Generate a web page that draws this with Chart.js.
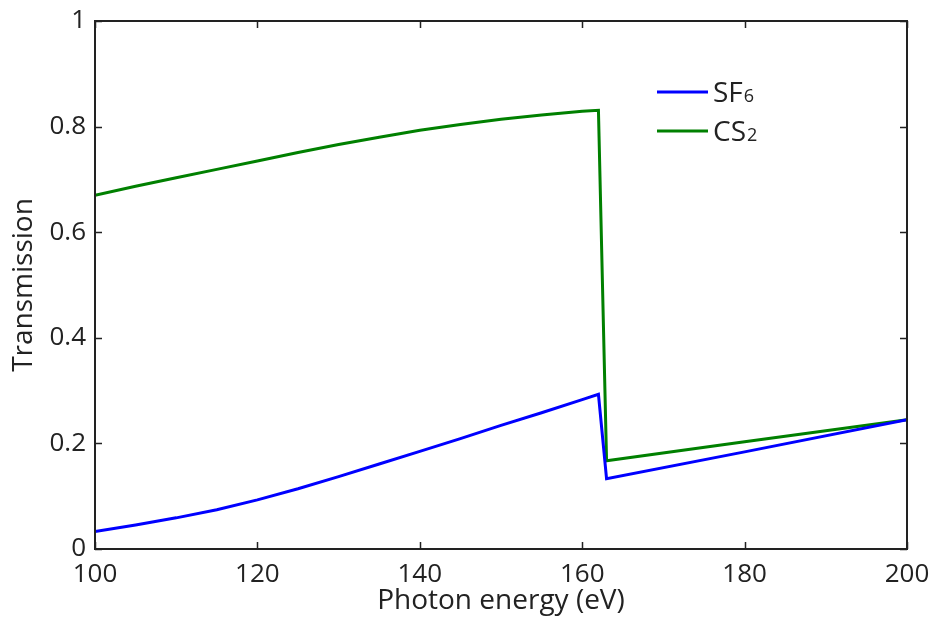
<!DOCTYPE html>
<html>
<head>
<meta charset="utf-8">
<script src="https://cdn.jsdelivr.net/npm/chart.js@4/dist/chart.umd.min.js"></script>
<style>
  html, body { margin: 0; padding: 0; background: #fff; }
  #wrap { width: 932px; height: 618px; }
</style>
</head>
<body>
<div id="wrap"><canvas id="c" width="932" height="618"></canvas></div>
<script>
// Photon energy (eV)
const energySF6 = [100, 105, 110, 115, 120, 125, 130, 135, 140, 145, 150, 155, 160, 162, 163, 180, 200];
const transSF6  = [0.033, 0.0455, 0.059, 0.0745, 0.093, 0.114, 0.137, 0.161, 0.185, 0.209, 0.234, 0.258, 0.283, 0.293, 0.133, 0.184, 0.245];
const energyCS2 = [100, 105, 110, 115, 120, 125, 130, 135, 140, 145, 150, 155, 160, 162, 163, 180, 200];
const transCS2  = [0.670, 0.687, 0.703, 0.719, 0.735, 0.751, 0.766, 0.780, 0.793, 0.804, 0.814, 0.822, 0.829, 0.831, 0.167, 0.203, 0.245];
const seriesNames = [["SF", "6"], ["CS", "2"]];
const seriesColors = ["#0000ff", "#008000"];
const xTicks = [100, 120, 140, 160, 180, 200];
const yTicks = [0, 0.2, 0.4, 0.6, 0.8, 1];
const xTitle = "Photon energy (eV)";
const yTitle = "Transmission";

const FONT = "'Open Sans', 'Noto Sans', sans-serif";
const INK = "#222222";

function pts(xs, ys) { return xs.map((x, i) => ({ x: x, y: ys[i] })); }

const framePlugin = {
  id: "frame",
  afterDatasetsDraw(chart) {
    const { ctx, chartArea: a, scales } = chart;
    ctx.save();
    ctx.strokeStyle = INK;
    ctx.lineWidth = 1.5;
    const tl = 7;
    ctx.beginPath();
    xTicks.forEach(v => {
      const px = Math.round(scales.x.getPixelForValue(v)) + 0.5;
      ctx.moveTo(px, a.bottom); ctx.lineTo(px, a.bottom - tl);
      ctx.moveTo(px, a.top); ctx.lineTo(px, a.top + tl);
    });
    yTicks.forEach(v => {
      const py = Math.round(scales.y.getPixelForValue(v)) + 0.5;
      ctx.moveTo(a.left, py); ctx.lineTo(a.left + tl, py);
      ctx.moveTo(a.right, py); ctx.lineTo(a.right - tl, py);
    });
    ctx.stroke();
    ctx.lineWidth = 2;
    ctx.strokeRect(a.left, a.top, a.right - a.left, a.bottom - a.top);
    ctx.restore();
  },
  afterDraw(chart) {
    const { ctx, chartArea: a } = chart;
    ctx.save();
    const x0 = a.left + 562, x1 = a.left + 613;
    const ys = [a.top + 71, a.top + 110];
    seriesNames.forEach((nm, i) => {
      ctx.strokeStyle = seriesColors[i];
      ctx.lineWidth = 3;
      ctx.beginPath();
      ctx.moveTo(x0, ys[i]); ctx.lineTo(x1, ys[i]);
      ctx.stroke();
      ctx.fillStyle = INK;
      ctx.textBaseline = "alphabetic";
      ctx.textAlign = "left";
      ctx.font = "28px " + FONT;
      const base = ys[i] + 10;
      ctx.fillText(nm[0], x1 + 5, base);
      const w = ctx.measureText(nm[0]).width;
      ctx.font = "18px " + FONT;
      ctx.fillText(nm[1], x1 + 5 + w + 1, base);
    });
    ctx.restore();
  }
};

new Chart(document.getElementById("c"), {
  type: "scatter",
  data: {
    datasets: [
      { label: "SF6", data: pts(energySF6, transSF6), showLine: true, borderColor: seriesColors[0], borderWidth: 3, pointRadius: 0, tension: 0, fill: false },
      { label: "CS2", data: pts(energyCS2, transCS2), showLine: true, borderColor: seriesColors[1], borderWidth: 3, pointRadius: 0, tension: 0, fill: false }
    ]
  },
  options: {
    responsive: false,
    animation: false,
    devicePixelRatio: 1,
    layout: { padding: { top: 21, right: 25, left: 0, bottom: 0 } },
    plugins: { legend: { display: false }, tooltip: { enabled: false } },
    scales: {
      x: {
        type: "linear", min: 100, max: 200,
        afterBuildTicks(s) { s.ticks = xTicks.map(v => ({ value: v })); },
        afterFit(s) { s.height = 69; s.paddingLeft = 0; s.paddingRight = 0; },
        ticks: { font: { family: FONT, size: 26 }, color: INK, padding: 10, maxRotation: 0 },
        grid: { display: false, drawTicks: false },
        border: { display: false },
        title: { display: true, text: xTitle, font: { family: FONT, size: 28 }, color: INK, padding: { top: -11, bottom: 0 } }
      },
      y: {
        type: "linear", min: 0, max: 1,
        afterBuildTicks(s) { s.ticks = yTicks.map(v => ({ value: v })); },
        afterFit(s) { s.width = 95; s.paddingTop = 0; s.paddingBottom = 0; },
        ticks: { font: { family: FONT, size: 26 }, color: INK, padding: 9, callback: v => String(Math.round(v * 10) / 10) },
        grid: { display: false, drawTicks: false },
        border: { display: false },
        title: { display: true, text: yTitle, font: { family: FONT, size: 28 }, color: INK, padding: { top: 7, bottom: 0 } }
      }
    }
  },
  plugins: [framePlugin]
});
</script>
</body>
</html>
